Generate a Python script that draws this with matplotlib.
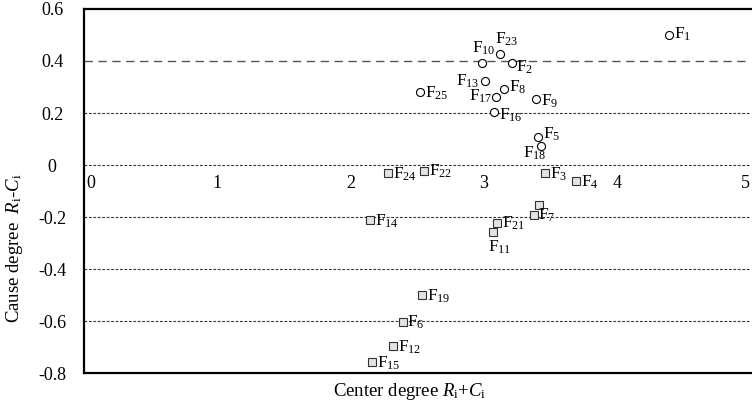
import matplotlib
matplotlib.use('Agg')
import matplotlib.pyplot as plt
import matplotlib.transforms as mtransforms

plt.rcParams['font.family'] = 'Liberation Serif'
plt.rcParams['mathtext.fontset'] = 'custom'
plt.rcParams['mathtext.rm'] = 'Liberation Serif'
plt.rcParams['mathtext.it'] = 'Liberation Serif:italic'

# cause factors (Ri-Ci > 0), drawn as circles
cause_names = ['1', '23', '10', '2', '13', '25', '8', '17', '9', '16', '5', '18']
cause_x = [4.39, 3.125, 2.987, 3.21, 3.01, 2.525, 3.153, 3.095, 3.39, 3.077, 3.41, 3.43]
cause_y = [0.50, 0.428, 0.391, 0.391, 0.322, 0.282, 0.292, 0.260, 0.253, 0.203, 0.106, 0.073]

# effect factors (Ri-Ci < 0), drawn as squares
effect_names = ['24', '22', '3', '4', '20', '7', '14', '21', '11', '19', '6', '12', '15']
effect_x = [2.284, 2.555, 3.459, 3.69, 3.419, 3.379, 2.146, 3.102, 3.067, 2.535, 2.395, 2.319, 2.163]
effect_y = [-0.032, -0.022, -0.032, -0.063, -0.154, -0.192, -0.212, -0.222, -0.258, -0.501, -0.603, -0.696, -0.758]

x_ticks = [0, 1, 2, 3, 4, 5]
y_ticks = [-0.8, -0.6, -0.4, -0.2, 0, 0.2, 0.4, 0.6]
y_ticklabels = ['-0.8', '-0.6', '-0.4', '-0.2', '0', '0.2', '0.4', '0.6']

# where each label sits relative to its marker: (dx, dy) in pixels, ha, va
label_place = {
    '1': (5, 1, 'left', 'center'),
    '23': (-5, 6, 'left', 'bottom'),
    '10': (2, 6, 'center', 'bottom'),
    '2': (4, -4, 'left', 'center'),
    '13': (-5, 0, 'right', 'center'),
    '25': (5, -2, 'left', 'center'),
    '8': (5, 2, 'left', 'center'),
    '17': (-4, 1, 'right', 'center'),
    '9': (5, -2, 'left', 'center'),
    '16': (5, -3, 'left', 'center'),
    '5': (5, 3, 'left', 'center'),
    '18': (6, -7, 'right', 'center'),
    '24': (5, -1, 'left', 'center'),
    '22': (5, -1, 'left', 'center'),
    '3': (5, -1, 'left', 'center'),
    '4': (5, -1, 'left', 'center'),
    '20': None,
    '7': (4, 0, 'left', 'center'),
    '14': (5, -1, 'left', 'center'),
    '21': (5, -1, 'left', 'center'),
    '11': (-5, -7, 'left', 'top'),
    '19': (5, -1, 'left', 'center'),
    '6': (4, -1, 'left', 'center'),
    '12': (5, -1, 'left', 'center'),
    '15': (5, -1, 'left', 'center'),
}

W, H = 752, 411
fig = plt.figure(figsize=(W / 100, H / 100), dpi=100)
ax = fig.add_axes([84 / W, 38 / H, (750 - 84) / W, (373 - 9) / H])

ax.set_xlim(0, 5)
ax.set_ylim(-0.8, 0.6)

# grid lines
for yv in y_ticks[1:-1]:
    if yv == 0.4:
        ax.axhline(yv, color='#555555', lw=1.0, dashes=(6, 4), zorder=1)
    else:
        ax.axhline(yv, color='#333333', lw=0.8, dashes=(2.5, 1.5), zorder=1)

ax.plot(cause_x, cause_y, 'o', ms=5.8, mfc='white', mec='black', mew=0.8,
        ls='none', zorder=3)
ax.plot(effect_x, effect_y, 's', ms=5.2, mfc='#e3e3e3', mec='#333333', mew=0.8,
        ls='none', zorder=3)

names = cause_names + effect_names
xs = cause_x + effect_x
ys = cause_y + effect_y
for n, xv, yv in zip(names, xs, ys):
    p = label_place[n]
    if p is None:
        continue
    dx, dy, ha, va = p
    ax.annotate(r'$\mathrm{F}_{%s}$' % n, (xv, yv), xytext=(dx * 0.72, dy * 0.72),
                textcoords='offset points', ha=ha, va=va, fontsize=12.5, zorder=4)

# spines
for s in ['left', 'bottom', 'top']:
    ax.spines[s].set_linewidth(1.6)
    ax.spines[s].set_color('black')
ax.spines['right'].set_visible(False)
ax.spines['top'].set_bounds(0, 5.02)
ax.spines['bottom'].set_bounds(0, 5.02)

ax.set_yticks(y_ticks)
ax.set_yticklabels(y_ticklabels, fontsize=13)
ax.tick_params(axis='y', length=0, pad=23)
for t in ax.get_yticklabels():
    t.set_horizontalalignment('center')
ax.set_xticks([])

# x tick labels sit just under the zero line
trans = mtransforms.offset_copy(ax.transData, fig=fig, x=0, y=-13, units='points')
for xv in x_ticks:
    if xv == 0:
        ax.text(0.02, 0, '0', transform=trans, ha='left', va='center', fontsize=13)
    elif xv == x_ticks[-1]:
        ax.text(xv, 0, str(xv), transform=trans, ha='right', va='center', fontsize=13)
    else:
        ax.text(xv, 0, str(xv), transform=trans, ha='center', va='center', fontsize=13)

fig.text(15 / W, 1 - 248 / H, r'Cause degree  $R_{\mathrm{i}}$-$C_{\mathrm{i}}$',
         rotation=90, ha='center', va='center', fontsize=13.5)
fig.text(410 / W, 1 - 391 / H, r'Center degree $R_{\mathrm{i}}$+$C_{\mathrm{i}}$',
         ha='center', va='center', fontsize=13.5)

fig.savefig('out.png', dpi=100)
